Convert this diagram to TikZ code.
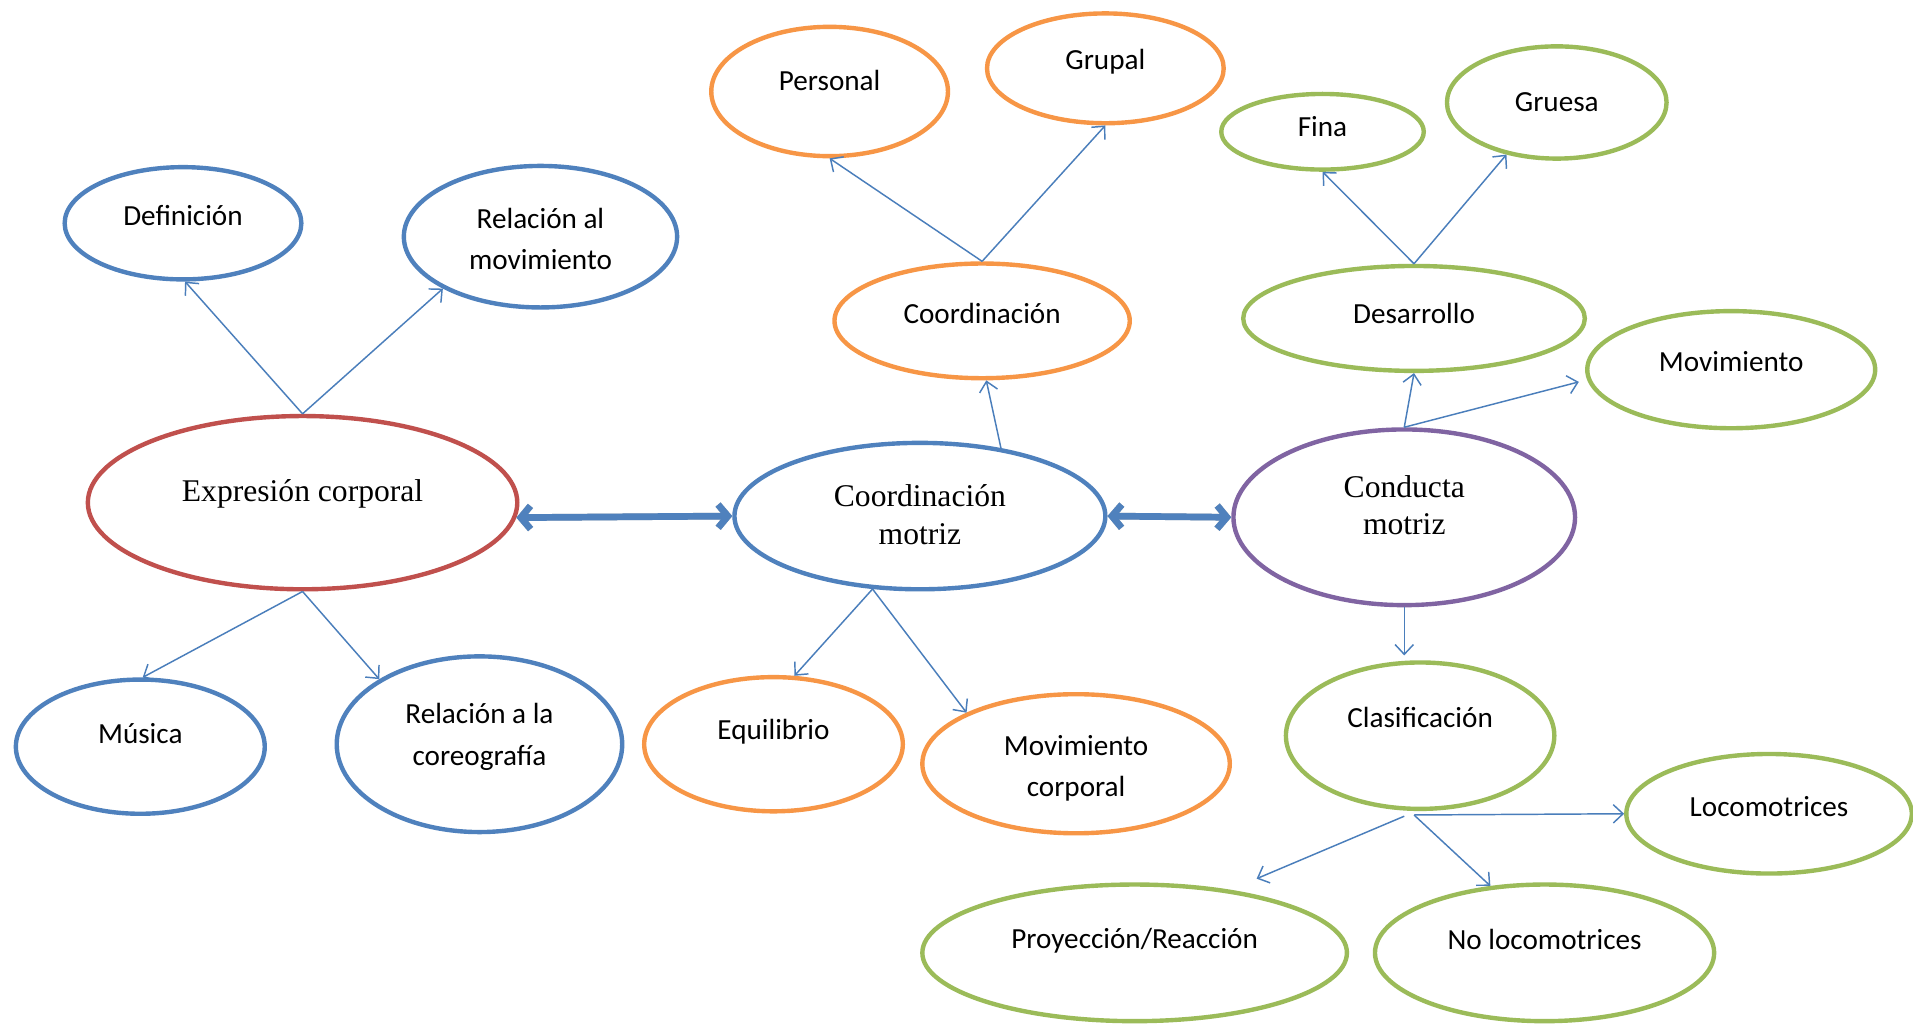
\documentclass[tikz,border=0pt]{standalone}
\usepackage{fontspec}
\setmainfont{Carlito}
\newfontfamily\tnr{Liberation Serif}
\usetikzlibrary{shapes.geometric,arrows.meta,calc}
\definecolor{cblue}{HTML}{4F81BD}
\definecolor{cred}{HTML}{C0504D}
\definecolor{corange}{HTML}{F79646}
\definecolor{cgreen}{HTML}{9BBB59}
\definecolor{cpurple}{HTML}{8064A2}
\definecolor{linkblue}{HTML}{4A7EBB}
\begin{document}
\begin{tikzpicture}[x=1bp,y=-1bp,
  bub/.style={ellipse, line width=3.6bp, inner sep=0pt, fill=white},
  lab/.style={font=\fontsize{24}{34}\selectfont, align=center, inner sep=0pt},
  big/.style={font=\tnr\fontsize{26}{31}\selectfont, align=center, inner sep=0pt},
  conn/.style={draw=linkblue, line width=1.2bp, -{Straight Barb[length=8bp,width=15bp]}},
  dbl/.style={line width=5.5bp, {Straight Barb[length=8bp,width=19bp]}-{Straight Barb[length=8bp,width=19bp]}}
]
\fill[white] (0,0) rectangle (1568,840);
\useasboundingbox (0,0) rectangle (1568,840);

% left cluster
\node[bub, draw=cblue, minimum width=194bp, minimum height=92bp] (def) at (150,183) {};
\node[lab] (def-t) at (150,177) {Definición};
\node[bub, draw=cblue, minimum width=224bp, minimum height=116bp] (rel) at (443,194) {};
\node[lab] (rel-t) at (443,196) {Relación al\\movimiento};
\node[bub, draw=cred, minimum width=352bp, minimum height=142bp] (expr) at (248,412) {};
\node[big] (expr-t) at (248,405) {Expresión corporal};
\node[bub, draw=cblue, minimum width=204bp, minimum height=110bp] (mus) at (115,612) {};
\node[lab] (mus-t) at (115,601) {Música};
\node[bub, draw=cblue, minimum width=234bp, minimum height=144bp] (coreo) at (393,610) {};
\node[lab] (coreo-t) at (393,604) {Relación a la\\coreografía};

% centre cluster
\node[bub, draw=cblue, minimum width=304bp, minimum height=120bp] (cm) at (754,423) {};
\node[big] (cm-t) at (754,422) {Coordinación\\motriz};
\node[bub, draw=corange, minimum width=212bp, minimum height=110bp] (equ) at (634,610) {};
\node[lab] (equ-t) at (634,600) {Equilibrio};
\node[bub, draw=corange, minimum width=252bp, minimum height=114bp] (movc) at (882,626) {};
\node[lab] (movc-t) at (882,630) {Movimiento\\corporal};
\node[bub, draw=corange, minimum width=242bp, minimum height=94bp] (coo) at (805,263) {};
\node[lab] (coo-t) at (805,257) {Coordinación};
\node[bub, draw=corange, minimum width=194bp, minimum height=106bp] (pers) at (680,75) {};
\node[lab] (pers-t) at (680,66) {Personal};
\node[bub, draw=corange, minimum width=194bp, minimum height=90bp] (grup) at (906,56) {};
\node[lab] (grup-t) at (906,51) {Grupal};

% right cluster
\node[bub, draw=cpurple, minimum width=280bp, minimum height=144bp] (cond) at (1151,424) {};
\node[big] (cond-t) at (1151,414) {Conducta\\motriz};
\node[bub, draw=cgreen, minimum width=280bp, minimum height=86bp] (des) at (1159,261) {};
\node[lab] (des-t) at (1159,257) {Desarrollo};
\node[bub, draw=cgreen, minimum width=166bp, minimum height=62bp] (fina) at (1084,108) {};
\node[lab] (fina-t) at (1084,104) {Fina};
\node[bub, draw=cgreen, minimum width=180bp, minimum height=92bp] (gru) at (1276,84) {};
\node[lab] (gru-t) at (1276,84) {Gruesa};
\node[bub, draw=cgreen, minimum width=236bp, minimum height=96bp] (mov) at (1419,303) {};
\node[lab] (mov-t) at (1419,296) {Movimiento};
\node[bub, draw=cgreen, minimum width=220bp, minimum height=120bp] (clas) at (1164,603) {};
\node[lab] (clas-t) at (1164,588) {Clasificación};
\node[bub, draw=cgreen, minimum width=234bp, minimum height=98bp] (loco) at (1450,667) {};
\node[lab] (loco-t) at (1450,661) {Locomotrices};
\node[bub, draw=cgreen, minimum width=348bp, minimum height=112bp] (proy) at (930,781) {};
\node[lab] (proy-t) at (930,771) {Proyección/Reacción};
\node[bub, draw=cgreen, minimum width=278bp, minimum height=112bp] (noloco) at (1266,781) {};
\node[lab] (noloco-t) at (1266,770) {No locomotrices};

% thin connectors
\draw[conn] (expr.north) -- (def.-88);
\draw[conn] (expr.north) -- (rel.-152);
\draw[conn] (expr.south) -- (mus.88);
\draw[conn] (expr.south) -- (coreo.147);
\draw[conn] (cm.40) -- (coo.-86);
\draw[conn] (coo.north) -- (pers.south);
\draw[conn] (coo.north) -- (grup.south);
\draw[conn] (cm.-123) -- (equ.73);
\draw[conn] (cm.-123) -- (movc.155);
\draw[conn] (cond.north) -- (des.south);
\draw[conn, shorten >=7bp] (cond.north) -- (mov.-176);
\draw[conn] (des.north) -- (fina.south);
\draw[conn] (des.north) -- (gru.-134);
\draw[conn] (cond.south) -- ([yshift=4bp]cond.south |- clas.north);
\coordinate (f1) at (1151,669);
\coordinate (f2) at (1159,668);
\draw[conn] (f1) -- ($(proy.north)+(100,-3)$);
\draw[conn] (f2) -- (noloco.129);
\draw[conn] (f2) -- (loco.west);

% thick double arrows with their shadow
\draw[dbl, draw=gray!55, xshift=1.5bp, yshift=-2.5bp] (expr.-4) -- (cm.west);
\draw[dbl, draw=gray!55, xshift=1.5bp, yshift=-2.5bp] (cm.east) -- (cond.west);
\draw[dbl, draw=cblue] (expr.-4) -- (cm.west);
\draw[dbl, draw=cblue] (cm.east) -- (cond.west);
\end{tikzpicture}
\end{document}
